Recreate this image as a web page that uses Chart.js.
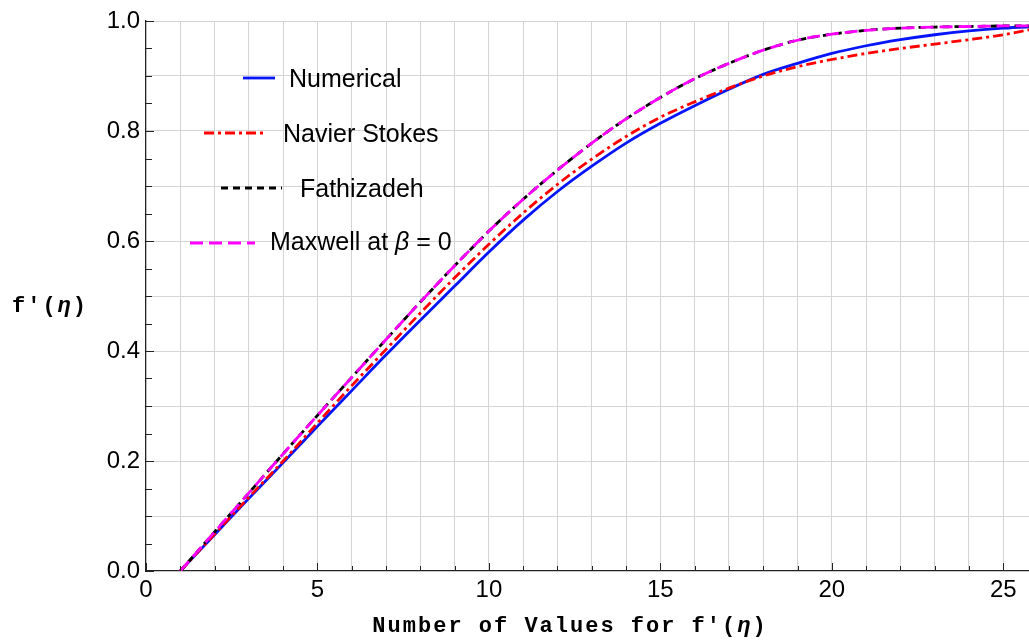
<!DOCTYPE html>
<html>
<head>
<meta charset="utf-8">
<script src="https://cdn.jsdelivr.net/npm/chart.js@4.4.1/dist/chart.umd.min.js"></script>
<style>
  html, body { margin: 0; padding: 0; background: #fff; }
  #wrap { width: 1029px; height: 644px; }
</style>
</head>
<body>
<div id="wrap"><canvas id="myChart" width="1029" height="644"></canvas></div>
<script>
// values
const etaValues    = [1, 2, 3, 4, 5, 6, 7, 8, 9, 10, 11, 12, 13, 14, 15, 16, 17, 18, 19, 20, 21, 22, 23, 24, 25, 26];
const numerical    = [0, 0.066, 0.132, 0.197, 0.263, 0.328, 0.393, 0.456, 0.518, 0.580, 0.638, 0.690, 0.736, 0.778, 0.814, 0.846, 0.876, 0.903, 0.923, 0.941, 0.955, 0.966, 0.975, 0.982, 0.987, 0.990];
const navierStokes = [0, 0.067, 0.134, 0.200, 0.269, 0.337, 0.403, 0.469, 0.533, 0.594, 0.651, 0.703, 0.749, 0.790, 0.825, 0.853, 0.878, 0.900, 0.917, 0.930, 0.941, 0.950, 0.958, 0.966, 0.975, 0.987];
const fathizadeh   = [0, 0.071, 0.142, 0.213, 0.283, 0.352, 0.421, 0.489, 0.555, 0.618, 0.676, 0.729, 0.778, 0.822, 0.861, 0.895, 0.923, 0.947, 0.965, 0.976, 0.983, 0.987, 0.989, 0.990, 0.991, 0.991];
const maxwell      = [0, 0.071, 0.142, 0.213, 0.283, 0.352, 0.421, 0.489, 0.555, 0.618, 0.676, 0.729, 0.778, 0.822, 0.861, 0.895, 0.923, 0.947, 0.965, 0.976, 0.983, 0.987, 0.989, 0.990, 0.991, 0.991];
const xTickLabels  = ['0', '5', '10', '15', '20', '25'];
const yTickLabels  = ['0.0', '0.2', '0.4', '0.6', '0.8', '1.0'];
const seriesNames  = ['Numerical', 'Navier Stokes', 'Fathizadeh', 'Maxwell at β = 0'];

function pts(arr) {
    return etaValues.map((e, i) => ({x: e, y: arr[i]}));
}

const styles = [
    {color: '#0514f8', dash: []},
    {color: '#ff0000', dash: [10, 4, 3, 4]},
    {color: '#000000', dash: [7, 5]},
    {color: '#ff00ff', dash: [13, 6]}
];
const seriesData = [numerical, navierStokes, fathizadeh, maxwell];

// legend placement (staggered like the original)
const legendPos = [
    {x1: 243, x2: 275, ly: 78, tx: 289, ty: 87},
    {x1: 204, x2: 263, ly: 133, tx: 283, ty: 142},
    {x1: 221, x2: 282, ly: 188, tx: 300, ty: 197},
    {x1: 190, x2: 255, ly: 243, tx: 270, ty: 250}
];

const gridGray = '#d4d4d4';
const sansFont = '"Liberation Sans", Arial, sans-serif';
const monoFont = '"Liberation Mono", "Courier New", monospace';

// writes pieces of text one after the other, the η in italic
function drawParts(ctx, parts, x, y, base) {
    parts.forEach(p => {
        ctx.font = (p.italic ? 'italic ' : '') + base;
        ctx.fillText(p.t, x, y);
        x += ctx.measureText(p.t).width;
    });
}

const decorations = {
    id: 'decorations',
    afterDraw(chart) {
        const ctx = chart.ctx;
        const a = chart.chartArea;
        const xs = chart.scales.x, ys = chart.scales.y;
        ctx.save();
        // inward frame ticks
        ctx.strokeStyle = '#222';
        ctx.lineWidth = 1;
        ctx.beginPath();
        for (let i = 0; i <= 25; i++) {
            const px = Math.round(xs.getPixelForValue(i)) + 0.5;
            const len = i % 5 === 0 ? 8 : 5;
            ctx.moveTo(px, a.bottom);
            ctx.lineTo(px, a.bottom - len);
        }
        for (let j = 0; j <= 20; j++) {
            const py = Math.round(ys.getPixelForValue(j * 0.05)) + 0.5;
            const len = j % 4 === 0 ? 8 : 6;
            ctx.moveTo(a.left, py);
            ctx.lineTo(a.left + len, py);
        }
        ctx.stroke();

        // legend
        ctx.textBaseline = 'alphabetic';
        ctx.textAlign = 'left';
        legendPos.forEach((p, i) => {
            ctx.strokeStyle = styles[i].color;
            ctx.lineWidth = 2.8;
            ctx.setLineDash(styles[i].dash);
            ctx.beginPath();
            ctx.moveTo(p.x1, p.ly);
            ctx.lineTo(p.x2, p.ly);
            ctx.stroke();
            ctx.setLineDash([]);
            ctx.fillStyle = '#000';
            if (i === 3) {
                drawParts(ctx, [{t: 'Maxwell at '}, {t: 'β', italic: true}, {t: ' = 0'}], p.tx, p.ty, '25px ' + sansFont);
            } else {
                ctx.font = '25px ' + sansFont;
                ctx.fillText(seriesNames[i], p.tx, p.ty);
            }
        });

        // axis titles
        ctx.fillStyle = '#000';
        ctx.letterSpacing = '2px';
        const base = 'bold 22px ' + monoFont;
        ctx.font = base;
        const xt = [{t: "Number of Values for f'("}, {t: 'η', italic: true}, {t: ')'}];
        let w = 0;
        xt.forEach(p => { ctx.font = (p.italic ? 'italic ' : '') + base; w += ctx.measureText(p.t).width; });
        drawParts(ctx, xt, 570 - w / 2, 632, base);
        drawParts(ctx, [{t: "f'("}, {t: 'η', italic: true}, {t: ')'}], 12, 312, base);
        ctx.restore();
    }
};

window.onload = function () {
    const datasets = seriesData.map((arr, i) => ({
        label: seriesNames[i],
        data: pts(arr),
        borderColor: styles[i].color,
        backgroundColor: styles[i].color,
        borderWidth: 2.8,
        borderDash: styles[i].dash,
        pointRadius: 0,
        cubicInterpolationMode: 'monotone',
        fill: false,
        order: 4 - i   // magenta on top, blue at the bottom
    }));

    new Chart(document.getElementById('myChart'), {
        type: 'line',
        data: {datasets: datasets},
        plugins: [decorations],
        options: {
            responsive: false,
            animation: false,
            devicePixelRatio: 1,
            layout: {padding: {top: 21, right: 0, left: 0, bottom: 0}},
            plugins: {legend: {display: false}, tooltip: {enabled: false}},
            scales: {
                x: {
                    type: 'linear',
                    min: 0,
                    max: 25.75,
                    afterFit: s => { s.height = 73; },
                    grid: {
                        color: c => (c.tick && c.tick.value === 0) ? 'rgba(0,0,0,0)' : gridGray,
                        drawTicks: false
                    },
                    border: {display: true, color: '#222', width: 1.3},
                    ticks: {
                        stepSize: 1,
                        includeBounds: false,
                        autoSkip: false,
                        maxRotation: 0,
                        padding: 5,
                        color: '#000',
                        font: {family: sansFont, size: 24},
                        callback: v => (v % 5 === 0 ? xTickLabels[v / 5] : '')
                    }
                },
                y: {
                    min: 0,
                    max: 1,
                    afterFit: s => { s.width = 146; },
                    grid: {
                        color: c => (c.index % 2 === 0 && c.index > 0) ? gridGray : 'rgba(0,0,0,0)',
                        drawTicks: false
                    },
                    border: {display: true, color: '#222', width: 1.3},
                    ticks: {
                        stepSize: 0.05,
                        autoSkip: false,
                        padding: 6,
                        color: '#000',
                        font: {family: sansFont, size: 24},
                        callback: (v, idx) => (idx % 4 === 0 ? yTickLabels[idx / 4] : '')
                    }
                }
            }
        }
    });
};
</script>
</body>
</html>
